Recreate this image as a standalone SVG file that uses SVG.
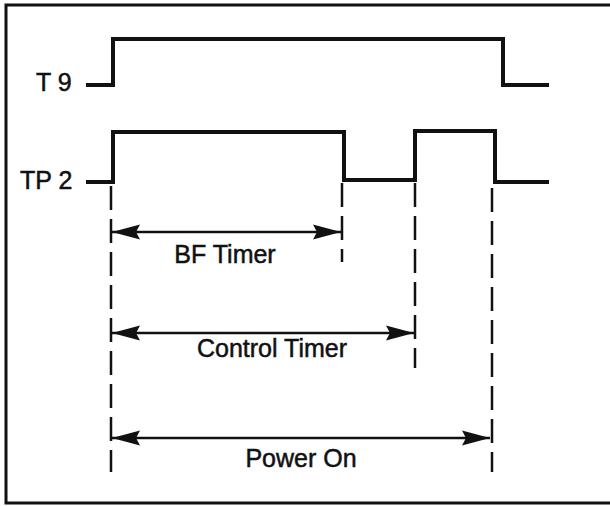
<svg xmlns="http://www.w3.org/2000/svg" width="610" height="506" viewBox="0 0 610 506">
  <defs>
    <style>
      .sig { fill: none; stroke: #111; stroke-width: 4; stroke-linejoin: miter; stroke-linecap: square; }
      .dash { fill: none; stroke: #111; stroke-width: 2.5; stroke-dasharray: 24 9; }
      .arr { fill: none; stroke: #111; stroke-width: 2.5; marker-start: url(#ah); marker-end: url(#ah); }
      .frame { fill: none; stroke: #111; stroke-width: 3; }
      text { font-family: "Liberation Sans", Arial, sans-serif; font-size: 25px; fill: #111; stroke: #111; stroke-width: 0.5; }
      .mid { text-anchor: middle; }
    </style>
    <marker id="ah" viewBox="0 0 28 16" refX="28" refY="8" markerWidth="28" markerHeight="16" markerUnits="userSpaceOnUse" orient="auto-start-reverse">
      <path d="M28,8 L0,0.5 L4,8 L0,15.5 Z" fill="#111"/>
    </marker>
  </defs>
  <rect width="610" height="506" fill="#fff"/>
  <path class="frame" d="M610,5 L6,5 L6,503 L610,503"/>

  <g id="T9">
    <text x="36" y="91">T 9</text>
    <path class="sig" d="M88,85 L113,85 L113,39 L503,39 L503,85 L547,85"/>
  </g>

  <g id="TP2">
    <text x="20" y="189">TP 2</text>
    <path class="sig" d="M88,182 L113,182 L113,132 L344,132 L344,180 L415,180 L415,131 L495,131 L495,182 L547,182"/>
  </g>

  <g id="connectors">
    <line class="dash" x1="111" y1="186" x2="111" y2="472"/>
    <line class="dash" x1="342" y1="183" x2="342" y2="262"/>
    <line class="dash" x1="415" y1="183" x2="415" y2="368" stroke-dasharray="34 5 26 6 34 13 30 12 24"/>
    <line class="dash" x1="492" y1="188" x2="492" y2="472"/>
    <line class="arr" x1="112" y1="232" x2="341" y2="232"/>
    <line class="arr" x1="112" y1="333" x2="414" y2="333"/>
    <line class="arr" x1="112" y1="438" x2="490" y2="438"/>
  </g>

  <g id="bf-timer">
    <text class="mid" x="225" y="263">BF Timer</text>
  </g>
  <g id="control-timer">
    <text class="mid" x="272" y="357">Control Timer</text>
  </g>
  <g id="power-on">
    <text class="mid" x="301" y="467">Power On</text>
  </g>
</svg>
